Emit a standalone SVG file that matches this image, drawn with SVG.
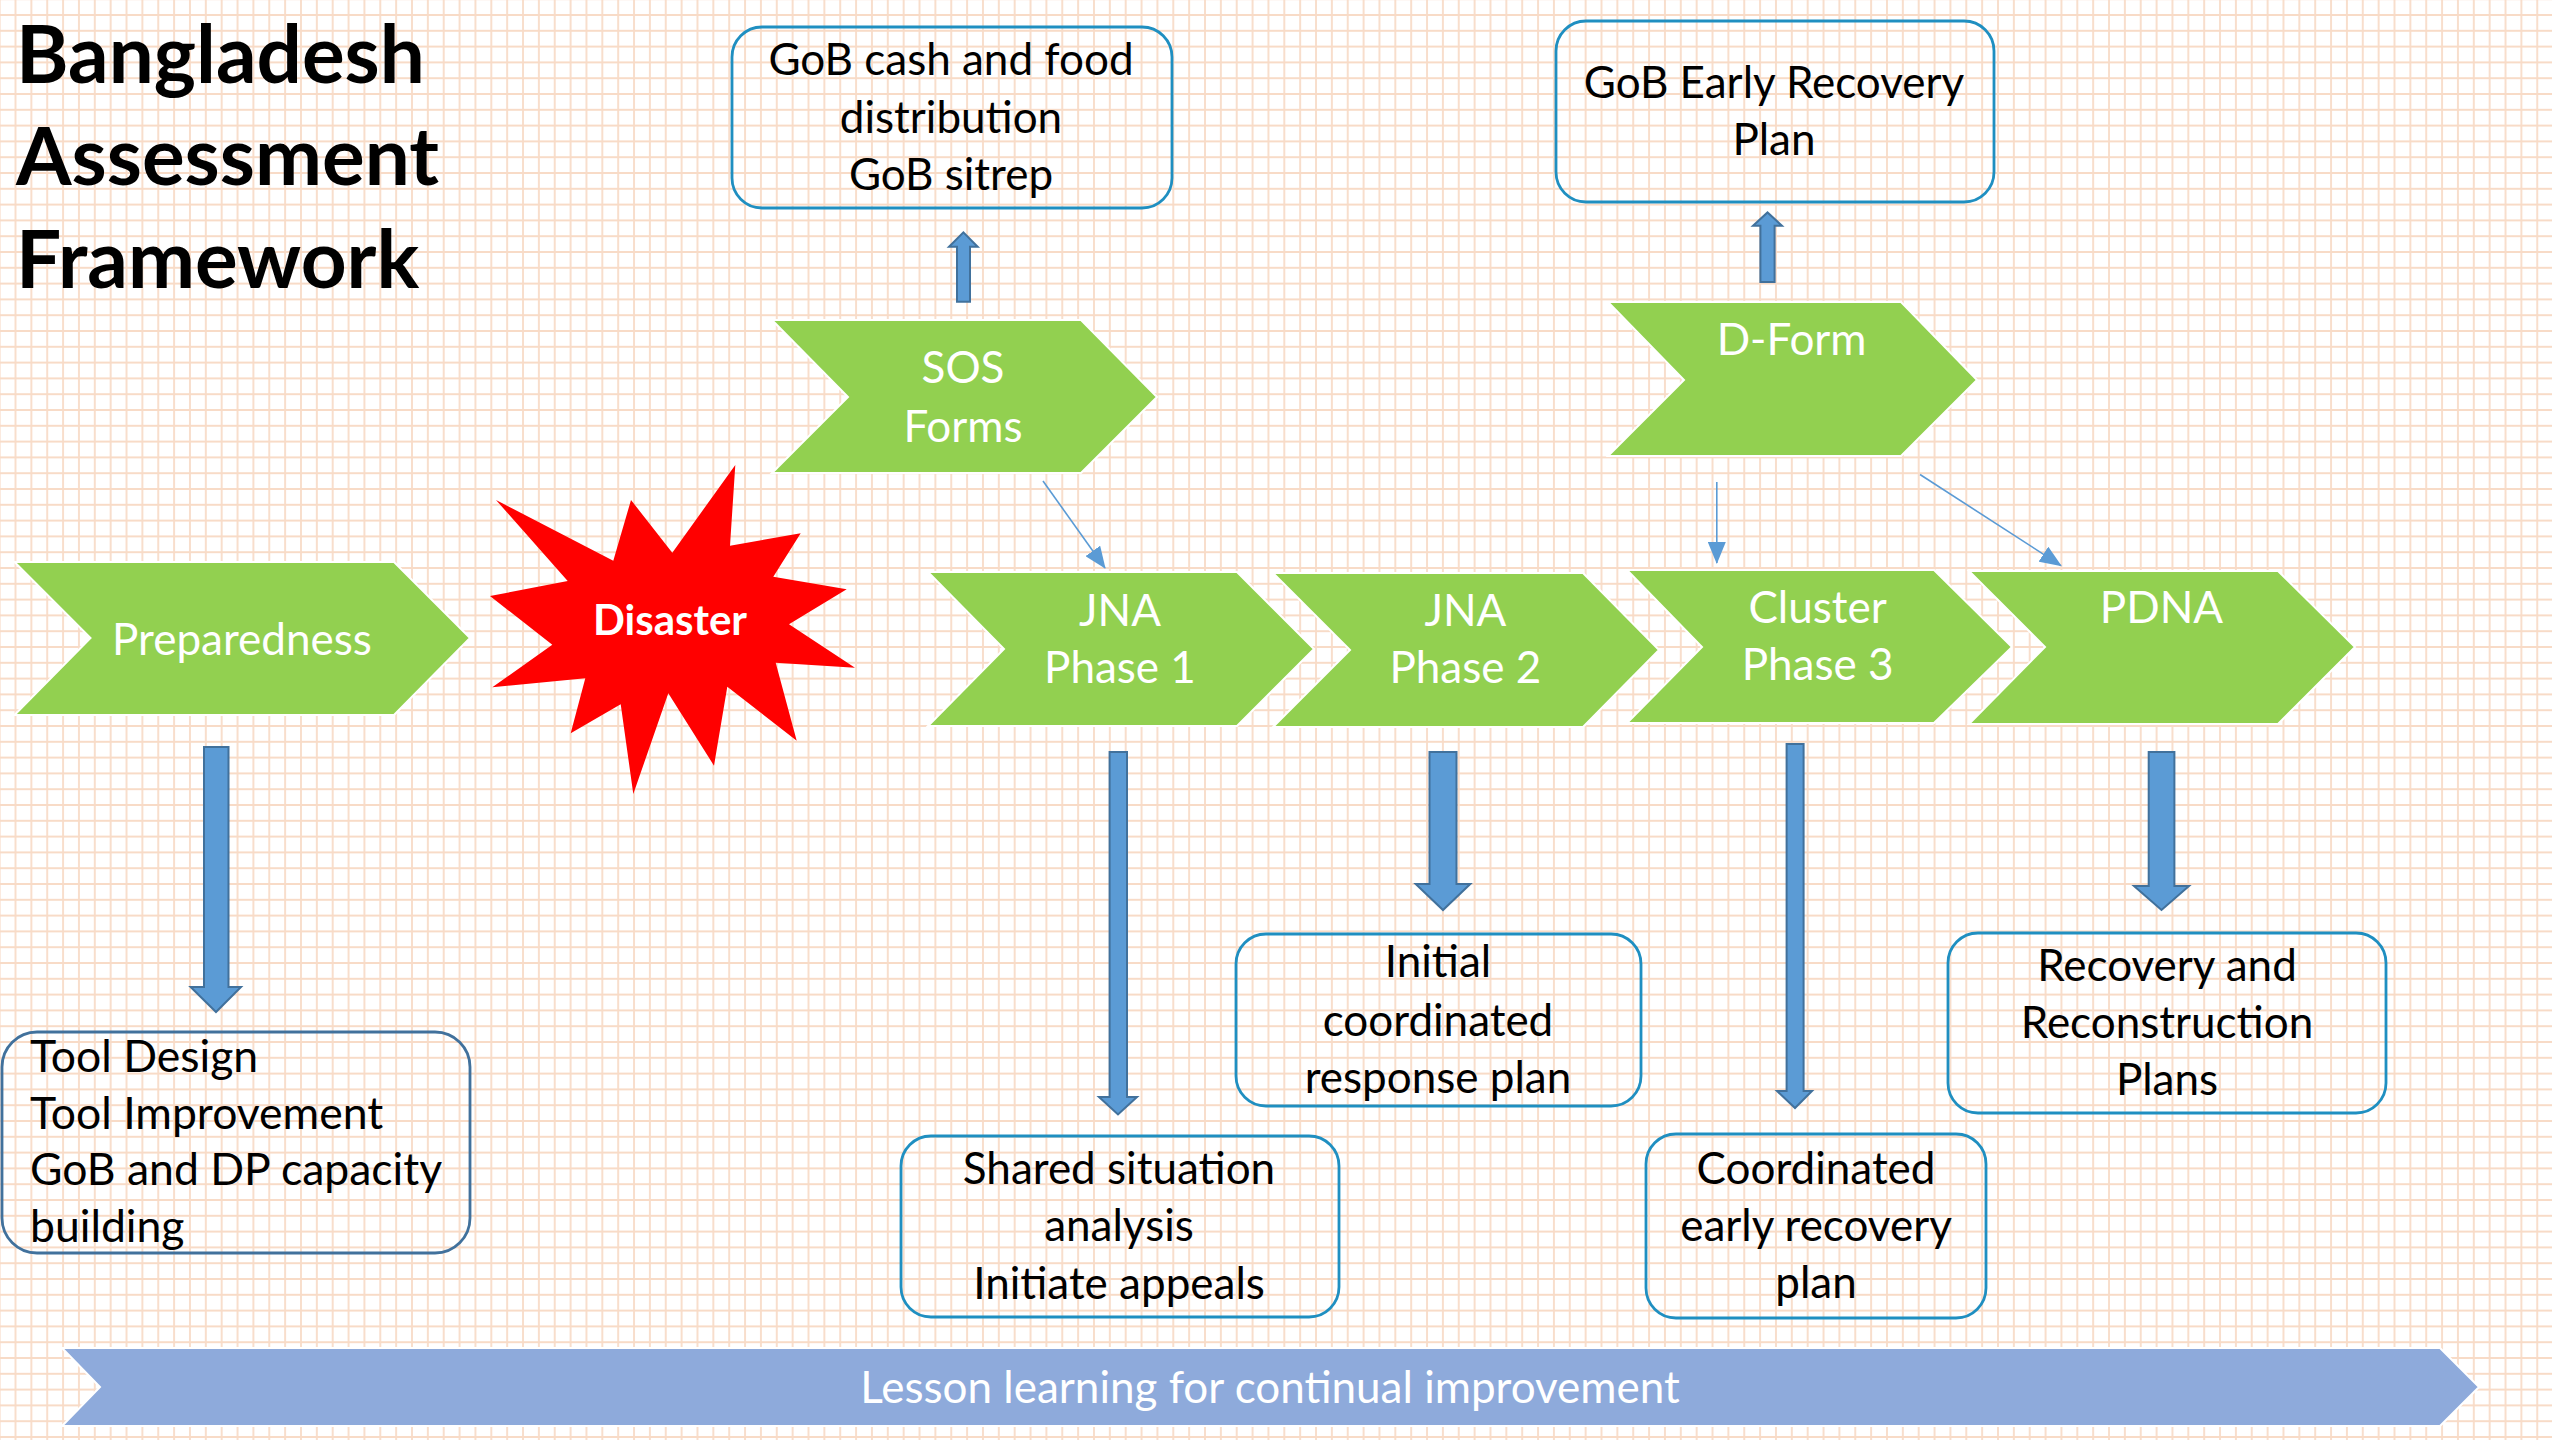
<svg xmlns="http://www.w3.org/2000/svg" width="2552" height="1440" viewBox="0 0 2552 1440">
<defs>
<pattern id="grid" patternUnits="userSpaceOnUse" x="7.57" y="7.1" width="15.86" height="15.8">
<path d="M7.93 0V15.8M0 7.9H15.86" stroke="#F8DBC7" stroke-width="1.8" fill="none"/>
</pattern>
<marker id="ah2" markerWidth="22" markerHeight="18" refX="21" refY="9" orient="auto" markerUnits="userSpaceOnUse" viewBox="0 0 22 18">
<path d="M0 0L22 9L0 18Z" fill="#5B9BD5"/>
</marker>
</defs>
<style>
.chev{fill:#92D050;stroke:#FFFFFF;stroke-width:2}
.ct{font-family:Lato,"Liberation Sans",sans-serif;font-size:44px;fill:#FFFFFF;text-anchor:middle}
.box{fill:none;stroke:#1F8FC1;stroke-width:2.8}
.box2{fill:none;stroke:#41719C;stroke-width:2.8}
.bt{font-family:Lato,"Liberation Sans",sans-serif;font-size:44px;fill:#000000;text-anchor:middle}
.btl{font-family:Lato,"Liberation Sans",sans-serif;font-size:44.5px;fill:#000000}
.blk{fill:#5B9BD5;stroke:#41719C;stroke-width:2}
.thin{stroke:#5B9BD5;stroke-width:1.6;fill:none}
.title{font-family:Lato,"Liberation Sans",sans-serif;font-weight:bold;font-size:80px;fill:#000000}
</style>
<rect width="2552" height="1440" fill="#FFFFFF"/>
<rect width="2552" height="1440" fill="url(#grid)"/>

<g id="title">
<text class="title" x="16" y="83">Bangladesh</text>
<text class="title" x="16" y="185">Assessment</text>
<text class="title" x="16" y="288">Framework</text>
</g>

<g id="connectors">
<path class="blk" d="M204 747H228.5V987H241L216 1012L190.6 987H204Z"/>
<path class="blk" d="M1109.6 752H1127V1097H1137L1118 1114.4L1099 1097H1109.6Z"/>
<path class="blk" d="M1429.5 752H1456.5V884H1470.3L1443 910L1415.7 884H1429.5Z"/>
<path class="blk" d="M1786.6 744H1803.6V1091H1812L1795 1108L1777 1091H1786.6Z"/>
<path class="blk" d="M2148.7 752H2174.4V886H2189L2161.5 910L2134 886H2148.7Z"/>
<path class="blk" d="M957 301.7H970V246.7H977.7L963.4 232.3L949 246.7H957Z"/>
<path class="blk" d="M1760.4 282H1774.6V225.8H1782L1767.5 212.4L1753 225.8H1760.4Z"/>
<line class="thin" x1="1043" y1="481" x2="1105" y2="568" marker-end="url(#ah2)"/>
<line class="thin" x1="1716.8" y1="482" x2="1716.8" y2="563" marker-end="url(#ah2)"/>
<line class="thin" x1="1920" y1="474.5" x2="2061" y2="565.6" marker-end="url(#ah2)"/>
</g>

<g id="banner">
<path d="M62 1348H2440L2479 1387L2440 1426H62L100 1387Z" fill="#8EAADB" stroke="#FFFFFF" stroke-width="2"/>
<text class="ct" x="1270" y="1403">Lesson learning for continual improvement</text>
</g>

<g id="preparedness">
<path class="chev" d="M14.5 562H394L470 638L394 715H14.5L90.5 638Z"/>
<text class="ct" x="242" y="655">Preparedness</text>
</g>

<g id="disaster">
<path d="M496 500L613.3 560.7L631 500L672.3 552.7L735.3 465L730 545.7L800.7 533.3L773.3 576.7L846.7 589.3L789 624.3L855 667.7L775.7 662.7L796.7 740.7L727.3 686.7L714 765.7L668.3 693.3L633.3 794L620.7 704.3L570.7 733.3L585.3 678.3L492.3 687.3L552.3 644.7L490 596L567.7 581Z" fill="#FF0000"/>
<text x="670" y="635" font-family="Lato,'Liberation Sans',sans-serif" font-weight="bold" font-size="42" fill="#FFFFFF" text-anchor="middle">Disaster</text>
</g>

<g id="sos">
<path class="chev" d="M772 320H1081L1157 397L1081 473H772L848 397Z"/>
<text class="ct" x="963" y="383">SOS</text>
<text class="ct" x="963" y="441.7">Forms</text>
</g>

<g id="dform">
<path class="chev" d="M1608 302H1901L1977 380L1901 456H1608L1684 380Z"/>
<text class="ct" x="1791.6" y="355">D-Form</text>
</g>

<g id="jna1">
<path class="chev" d="M928 572H1237L1314 649L1237 726H928L1004 649Z"/>
<text class="ct" x="1120" y="626">JNA</text>
<text class="ct" x="1120" y="683.3">Phase 1</text>
</g>

<g id="jna2">
<path class="chev" d="M1273 573H1583L1659 650L1583 727H1273L1350 650Z"/>
<text class="ct" x="1465.4" y="626">JNA</text>
<text class="ct" x="1465.4" y="683.3">Phase 2</text>
</g>

<g id="cluster">
<path class="chev" d="M1627 570H1934L2012 647L1934 723H1627L1702 647Z"/>
<text class="ct" x="1817.6" y="622.7">Cluster</text>
<text class="ct" x="1817.6" y="680">Phase 3</text>
</g>

<g id="pdna">
<path class="chev" d="M1969 571H2278L2355 647L2278 724H1969L2045 647Z"/>
<text class="ct" x="2161.5" y="623.3">PDNA</text>
</g>

<g id="gob-cash">
<rect class="box" x="732" y="27" width="440" height="181" rx="30"/>
<text class="bt" x="951" y="75">GoB cash and food</text>
<text class="bt" x="951" y="133">distribution</text>
<text class="bt" x="951" y="190">GoB sitrep</text>
</g>

<g id="gob-er">
<rect class="box" x="1556" y="21" width="438" height="181" rx="30"/>
<text class="bt" x="1774" y="97.6">GoB Early Recovery</text>
<text class="bt" x="1774" y="155">Plan</text>
</g>

<g id="tool">
<rect class="box2" x="2" y="1032" width="468" height="221" rx="35"/>
<text class="btl" x="30" y="1071.7">Tool Design</text>
<text class="btl" x="30" y="1129.3">Tool Improvement</text>
<text class="btl" x="30" y="1185">GoB and DP capacity</text>
<text class="btl" x="30" y="1241.7">building</text>
</g>

<g id="shared">
<rect class="box" x="901" y="1136" width="438" height="181" rx="30"/>
<text class="bt" x="1119" y="1184">Shared situation</text>
<text class="bt" x="1119" y="1241">analysis</text>
<text class="bt" x="1119" y="1298.6">Initiate appeals</text>
</g>

<g id="initial">
<rect class="box" x="1236" y="934" width="405" height="172" rx="30"/>
<text class="bt" x="1438" y="976.8">Initial</text>
<text class="bt" x="1438" y="1036">coordinated</text>
<text class="bt" x="1438" y="1093">response plan</text>
</g>

<g id="coordinated">
<rect class="box" x="1646" y="1134" width="340" height="184" rx="30"/>
<text class="bt" x="1816" y="1184">Coordinated</text>
<text class="bt" x="1816" y="1241">early recovery</text>
<text class="bt" x="1816" y="1298">plan</text>
</g>

<g id="recovery">
<rect class="box" x="1948" y="933" width="438" height="180" rx="30"/>
<text class="bt" x="2167" y="981">Recovery and</text>
<text class="bt" x="2167" y="1038">Reconstruction</text>
<text class="bt" x="2167" y="1095">Plans</text>
</g>
</svg>
